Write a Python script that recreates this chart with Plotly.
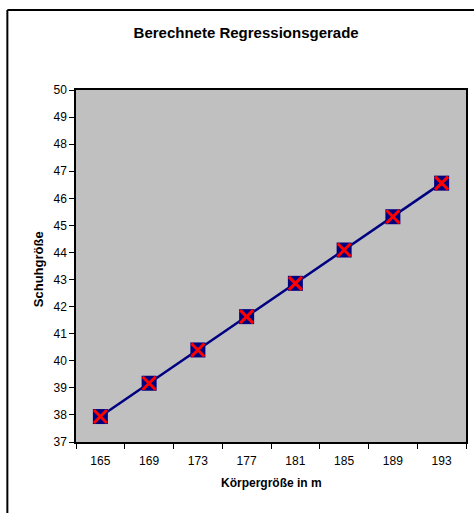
import plotly.graph_objects as go

# Body height (cm) categories and fitted shoe size
koerpergroesse = ["165", "169", "173", "177", "181", "185", "189", "193"]
schuhgroesse = [37.94, 39.17, 40.40, 41.63, 42.86, 44.09, 45.32, 46.56]
y_ticks = list(range(37, 51))

W, H = 476, 513
L, R, T, B = 76, 8, 90, 71
pw, ph = W - L - R, H - T - B

def px_x(x):
    return (x - L) / pw

def px_y(y):
    return (H - B - y) / ph

font = "Liberation Sans, Arial, sans-serif"

fig = go.Figure()
fig.add_trace(go.Scatter(
    x=koerpergroesse, y=schuhgroesse, mode="lines+markers",
    line=dict(color="#000080", width=2.5),
    marker=dict(symbol="square", size=15, color="#000080"),
    showlegend=False, hoverinfo="skip",
))
fig.add_trace(go.Scatter(
    x=koerpergroesse, y=schuhgroesse, mode="markers",
    marker=dict(symbol="x-thin", size=13, line=dict(color="#ff0000", width=3)),
    showlegend=False,
))

fig.update_layout(
    width=W, height=H,
    margin=dict(l=L, r=R, t=T, b=B),
    paper_bgcolor="white", plot_bgcolor="#c0c0c0",
    font=dict(family=font, color="black", size=12),
    title=dict(text="<b>Berechnete Regressionsgerade</b>", x=px_x(247), xref="paper",
               xanchor="center", y=1 - 33 / H, yanchor="middle",
               font=dict(size=15, family=font)),
    xaxis=dict(type="category", range=[-0.5, len(koerpergroesse) - 0.5],
               tickson="boundaries", ticks="outside", ticklen=5,
               tickcolor="black", showline=True, linecolor="black", linewidth=1.5,
               mirror=True, showgrid=False, tickfont=dict(size=12),
               ticklabelstandoff=7),
    yaxis=dict(range=[37, 50], tickvals=y_ticks, ticks="outside", ticklen=5,
               tickcolor="black", showline=True, linecolor="black", linewidth=1.5,
               mirror=True, showgrid=False, zeroline=False, tickfont=dict(size=12)),
    annotations=[
        dict(text="<b>Körpergröße in m</b>", xref="paper", yref="paper",
             x=px_x(273), y=px_y(483), xanchor="center", yanchor="middle",
             showarrow=False, font=dict(size=12, family=font)),
        dict(text="<b>Schuhgröße</b>", xref="paper", yref="paper",
             x=px_x(38), y=px_y(269), xanchor="center", yanchor="middle",
             textangle=-90, showarrow=False, font=dict(size=13, family=font)),
    ],
    shapes=[
        # chart frame; its right and bottom edges lie outside the page
        dict(type="line", xref="paper", yref="paper", x0=px_x(7), x1=px_x(7),
             y0=px_y(10), y1=px_y(H), line=dict(color="black", width=2)),
        dict(type="line", xref="paper", yref="paper", x0=px_x(7), x1=px_x(W),
             y0=px_y(10), y1=px_y(10), line=dict(color="black", width=2)),
    ],
)

fig.write_html("out.html")
